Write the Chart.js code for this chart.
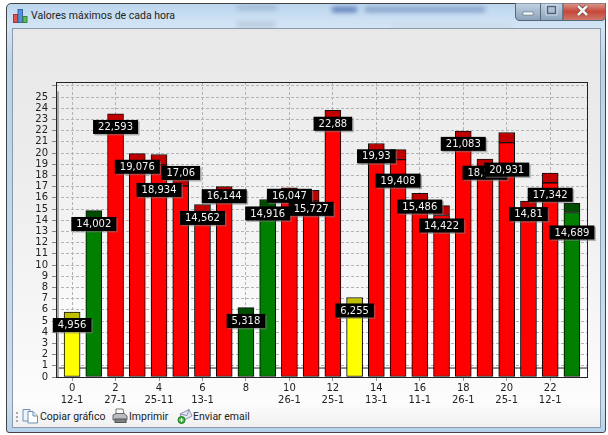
<!DOCTYPE html>
<html>
<head>
<meta charset="utf-8">
<title>Valores máximos de cada hora</title>
<script src="https://cdn.jsdelivr.net/npm/chart.js@4"></script>
<style>
    html, body { margin: 0; padding: 0; background: #fff; overflow: hidden; }
    #page { position: relative; width: 608px; height: 435px; overflow: hidden; }
    #page > * { position: absolute; }
    #frame {
        left: 6px; top: 3px; width: 600px; height: 430px; box-sizing: border-box;
        border: 1px solid #444; border-radius: 5px 5px 3px 3px;
        background: linear-gradient(#bcd6ee 0, #d3e5f5 22px, #b9d3ea 60px, #c9deef 400px, #b4d0ea 430px);
        overflow: hidden;
    }
    .blob { position: absolute; filter: blur(2.5px); }
    #client {
        left: 12px; top: 28px; width: 589px; height: 400px; box-sizing: border-box;
        border: 1px solid #8b9bab;
        background: linear-gradient(#e8e8e8 0, #ececec 130px, #f8f8f8 320px, #fcfcfc 375px, #f0f0f0 398px);
    }
    #caption {
        left: 31px; top: 9px; font: 10.5px Roboto, sans-serif; color: #222; white-space: nowrap;
    }
    .tool { font: 10.5px Roboto, sans-serif; color: #222; top: 410px; white-space: nowrap; }
    #grip { left: 16px; top: 412px; width: 1px; height: 10px; border-left: 2px dotted #aaa; }
    canvas { left: 0; top: 0; }
</style>
</head>
<body>
<div id="page">
    <div id="frame">
        <div class="blob" style="left:230px;top:1px;width:40px;height:5px;background:#9fb8d4"></div>
        <div class="blob" style="left:230px;top:18px;width:38px;height:5px;background:#b4c6d8"></div>
        <div class="blob" style="left:325px;top:3px;width:25px;height:5px;background:#5676b0"></div>
        <div class="blob" style="left:358px;top:3px;width:120px;height:5px;background:#7f9cc6"></div>
        <div class="blob" style="left:385px;top:21px;width:120px;height:3px;background:#c6d6e4"></div>
    </div>
    <svg style="left:515px;top:3px" width="91" height="18">
        <defs>
            <linearGradient id="btn" x1="0" y1="0" x2="0" y2="1">
                <stop offset="0" stop-color="#c2d3e4"/><stop offset="1" stop-color="#8ba2b8"/>
            </linearGradient>
            <linearGradient id="cls" x1="0" y1="0" x2="0" y2="1">
                <stop offset="0" stop-color="#dc9a90"/><stop offset="0.5" stop-color="#c4483a"/><stop offset="1" stop-color="#d07a6c"/>
            </linearGradient>
        </defs>
        <path d="M0.5 0 V13 Q0.5 17.5 5 17.5 H48 V0 Z" fill="url(#btn)" stroke="#56687c"/>
        <path d="M48 0 V17.5 H86 Q90.5 17.5 90.5 13 V0 Z" fill="url(#cls)" stroke="#56687c"/>
        <line x1="25.5" y1="0" x2="25.5" y2="17" stroke="#56687c"/>
        <rect x="8" y="9" width="10" height="3" fill="#fff" stroke="#5a6b7c" stroke-width="0.6"/>
        <rect x="32.5" y="3.5" width="8" height="7" fill="none" stroke="#4f6172" stroke-width="1.4"/>
        <rect x="31" y="2" width="11" height="10" fill="none" stroke="#dde6ee" stroke-width="0.7"/>
        <path d="M63 3 L72 12 M72 3 L63 12" stroke="#6c3a34" stroke-width="4"/>
        <path d="M63 3 L72 12 M72 3 L63 12" stroke="#f4f4f4" stroke-width="2.6"/>
    </svg>
    <svg style="left:13px;top:9px" width="15" height="14">
        <rect x="0.5" y="5.5" width="4" height="8" fill="#e0524a" stroke="#a33"/>
        <rect x="5" y="0.5" width="4.5" height="13" fill="#5b8fd8" stroke="#36a"/>
        <rect x="10" y="7.5" width="4" height="6" fill="#62b85a" stroke="#383"/>
    </svg>
    <div id="caption">Valores máximos de cada hora</div>
    <div id="client"></div>
    <div id="grip"></div>
    <svg style="left:22px;top:408px" width="17" height="16">
        <path d="M1 1.5 H8 V13 H1 Z" fill="#eef4fb" stroke="#6d8fb5"/>
        <path d="M6 3.5 H11 L15.5 8 V15 H6 Z" fill="#fff" stroke="#6d8fb5"/>
        <path d="M11 3.5 V8 H15.5" fill="#dbe8f5" stroke="#6d8fb5"/>
    </svg>
    <div class="tool" style="left:40px">Copiar gráfico</div>
    <svg style="left:112px;top:408px" width="16" height="16">
        <path d="M4 1 L11 1 L12 6 H4 Z" fill="#fff" stroke="#777"/>
        <path d="M1 7 L4 5.5 H12 L15 8 V12 H1 Z" fill="#b9bcc0" stroke="#666"/>
        <rect x="3" y="11" width="11" height="3.5" fill="#7d8085" stroke="#555"/>
    </svg>
    <div class="tool" style="left:129px">Imprimir</div>
    <svg style="left:177px;top:408px" width="16" height="16">
        <path d="M3 6 L12 1.5 L15 8 L6 12.5 Z" fill="#e4e8f2" stroke="#8c93ac"/>
        <path d="M3 6 L10 7.5 L12 1.5" fill="none" stroke="#8c93ac"/>
        <circle cx="4.5" cy="12" r="3.5" fill="#3fae3f" stroke="#1f7a1f"/>
        <path d="M2.5 12 H6.5 M4.5 10 V14" stroke="#fff"/>
    </svg>
    <div class="tool" style="left:193px">Enviar email</div>
    <canvas id="chart" width="608" height="435"></canvas>
</div>

<script>
const hours = [0, 1, 2, 3, 4, 5, 6, 7, 8, 9, 10, 11, 12, 13, 14, 15, 16, 17, 18, 19, 20, 21, 22, 23];
const dates = { 0: '12-1', 2: '27-1', 4: '25-11', 6: '13-1', 10: '26-1', 12: '25-1', 14: '13-1', 16: '11-1', 18: '26-1', 20: '25-1', 22: '12-1' };
const values = [4.956, 14.002, 22.593, 19.076, 18.934, 17.06, 14.562, 16.144, 5.318, 14.916, 16.047, 15.727,
    22.88, 6.255, 19.93, 19.408, 15.486, 14.422, 21.083, 18.552, 20.931, 14.81, 17.342, 14.689];
const peaks = [5.8, 14.85, 23.5, 19.95, 19.87, 17.9, 15.4, 17.0, 6.19, 15.85, 16.9, 16.67,
    23.8, 7.1, 20.85, 20.3, 16.4, 15.3, 21.96, 19.46, 21.83, 15.7, 18.2, 15.5];
const status = ['y', 'g', 'r', 'r', 'r', 'r', 'r', 'r', 'g', 'g', 'r', 'r',
    'r', 'y', 'r', 'r', 'r', 'r', 'r', 'r', 'r', 'r', 'r', 'g'];
const threshold = 0.8;

// labels get pushed around in the original so they don't sit on each other
const labelShift = [3.5, 3.8, 3, 3.4, 25, -13, 4, 0, 3.5, 3.5, -1.5, 8,
    3, 3.5, 2.5, 21, 3, 10, 3, 3.5, 27, 3, 12, 20];

const mainColor = { y: '#ffff00', g: '#008000', r: '#ff0000' };
const capColor = { y: '#c0c000', g: '#004d00', r: '#c00000' };

const axisFont = { family: 'DejaVu Sans', size: 10 };
const axisMin = -0.74, axisMax = 23.74;

const plotBackground = {
    id: 'plotBackground',
    beforeDraw(chart) {
        const { ctx, chartArea: a } = chart;
        const g = ctx.createLinearGradient(0, a.top, 0, a.bottom);
        g.addColorStop(0, '#ebebeb');
        g.addColorStop(0.5, '#f3f3f3');
        g.addColorStop(1, '#ffffff');
        ctx.fillStyle = g;
        ctx.fillRect(a.left, a.top, a.width, a.height);
    }
};

const plotFrame = {
    id: 'plotFrame',
    afterDatasetsDraw(chart) {
        const { ctx, chartArea: a, scales } = chart;
        ctx.save();
        const y25 = scales.y.getPixelForValue(25.5);
        ctx.fillStyle = '#a8a8a8';
        ctx.fillRect(a.left, y25, 3, a.bottom - y25);
        ctx.strokeStyle = '#222';
        ctx.lineWidth = 1;
        ctx.strokeRect(a.left + 0.5, a.top + 0.5, a.width - 1, a.height);
        ctx.restore();
    }
};

const valueLabels = {
    id: 'valueLabels',
    afterDraw(chart) {
        const { ctx, scales } = chart;
        ctx.save();
        ctx.font = '10px "DejaVu Sans"';
        ctx.textAlign = 'center';
        ctx.textBaseline = 'middle';
        values.forEach((v, i) => {
            const text = String(v).replace('.', ',');
            const w = ctx.measureText(text).width + 10;
            const x = scales.x.getPixelForValue(hours[i]);
            const y = scales.y.getPixelForValue(v) + labelShift[i];
            ctx.fillStyle = 'rgba(120,120,120,0.55)';
            ctx.fillRect(x - w / 2 + 1.5, y - 7 + 1.5, w, 14);
            ctx.fillStyle = '#000';
            ctx.fillRect(x - w / 2, y - 7, w, 14);
            ctx.fillStyle = '#f2f2f2';
            ctx.fillText(text, x, y + 0.5);
        });
        ctx.restore();
    }
};

new Chart(document.getElementById('chart'), {
    type: 'bar',
    data: {
        datasets: [{
            data: hours.map((h, i) => ({ x: h, y: values[i] })),
            backgroundColor: status.map(s => mainColor[s]),
            borderColor: '#000',
            borderWidth: 1,
            borderSkipped: false,
            barThickness: 16,
            grouped: false,
            order: 2
        }, {
            data: hours.map((h, i) => ({ x: h, y: [values[i], peaks[i]] })),
            backgroundColor: status.map(s => capColor[s]),
            borderColor: '#111',
            borderWidth: 1,
            borderSkipped: false,
            barThickness: 16,
            grouped: false,
            order: 1
        }, {
            type: 'line',
            data: [{ x: axisMin, y: threshold }, { x: axisMax, y: threshold }],
            borderColor: '#222',
            borderWidth: 1,
            pointRadius: 0,
            order: 3
        }]
    },
    options: {
        responsive: false,
        animation: false,
        layout: { padding: { top: 82, right: 20 } },
        plugins: { legend: { display: false }, tooltip: { enabled: false } },
        scales: {
            x: {
                type: 'linear',
                offset: false,
                min: axisMin,
                max: axisMax,
                afterFit: (s) => { s.height = 58; },
                border: { display: false, dash: [3, 2] },
                grid: { offset: false, color: '#b4b4b4', tickLength: 4, tickColor: '#999' },
                ticks: {
                    stepSize: 2,
                    includeBounds: false,
                    autoSkip: false,
                    maxRotation: 0,
                    padding: 1,
                    color: '#222',
                    font: axisFont,
                    callback: (v) => dates[v] ? [String(v), dates[v]] : String(v)
                }
            },
            y: {
                min: 0,
                max: 26.34,
                afterFit: (s) => { s.width = 56; },
                border: { display: false, dash: [3, 2] },
                grid: { color: '#b4b4b4', tickLength: 4, tickColor: '#888' },
                ticks: {
                    stepSize: 1,
                    includeBounds: false,
                    autoSkip: false,
                    padding: 4,
                    color: '#222',
                    font: axisFont,
                    callback: (v) => v <= 25 ? String(v) : ''
                }
            }
        }
    },
    plugins: [plotBackground, plotFrame, valueLabels]
});
</script>
</body>
</html>
